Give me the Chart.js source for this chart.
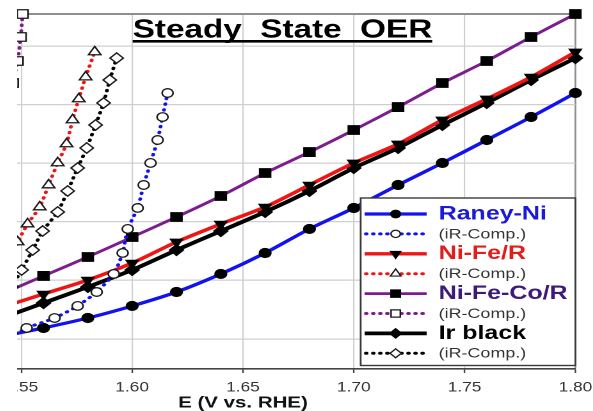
<!DOCTYPE html>
<html>
<head>
<meta charset="utf-8">
<script src="https://cdn.jsdelivr.net/npm/chart.js@4.4.1/dist/chart.umd.min.js"></script>
<style>
html, body { margin: 0; padding: 0; background: #fff; width: 593px; height: 411px; overflow: hidden; }
#crop { position: absolute; left: 17px; top: 0; width: 576px; height: 411px; overflow: hidden; }
#wrap { position: absolute; left: 0; top: 0; width: 564px; height: 411px; transform: scaleX(1.28); transform-origin: 0 0; }
canvas { display: block; }
</style>
</head>
<body>
<div id="crop"><div id="wrap"><canvas id="c" width="564" height="411"></canvas></div></div>
<script>
// ---- data ----
const E = [1.54, 1.56, 1.58, 1.60, 1.62, 1.64, 1.66, 1.68, 1.70, 1.72, 1.74, 1.76, 1.78, 1.80];
const raneyNi  = [1.7, 9.4, 17.9, 28.2, 40.1, 55.5, 73.4, 93.9, 111.8, 131.4, 150.2, 169.8, 189.4, 209.9];
const niFeR    = [26.4, 38.4, 50.3, 64.8, 82.8, 98.1, 112.6, 131.4, 150.2, 166.4, 186.9, 204.8, 223.5, 244.9];
const niFeCoR  = [37.5, 53.8, 70.0, 87.0, 104.1, 122.0, 141.6, 159.5, 178.3, 197.9, 218.4, 237.2, 257.7, 277.3];
const irBlack  = [17.1, 30.7, 44.4, 58.9, 75.9, 92.1, 108.4, 126.3, 145.9, 163.0, 182.6, 201.4, 221.0, 239.7];
// iR-compensated potentials for the same currents
const raneyNiComp = [1.5447, 1.5524, 1.5650, 1.5754, 1.5840, 1.5917, 1.5957, 1.5980, 1.6025, 1.6052, 1.6083, 1.6115, 1.6137, 1.6160];
const niFeRComp   = [1.5330, 1.5361, 1.5398, 1.5438, 1.5483, 1.5528, 1.5583, 1.5623, 1.5664, 1.5704, 1.5731, 1.5759, 1.5790, 1.5831];
const niFeCoRComp = [1.5235, 1.5258, 1.5280, 1.5303, 1.5325, 1.5348, 1.5370, 1.5393, 1.5416, 1.5438, 1.5461, 1.5483, 1.5497, 1.5506];
const irBlackComp = [1.5380, 1.5416, 1.5456, 1.5501, 1.5551, 1.5596, 1.5664, 1.5709, 1.5754, 1.5795, 1.5835, 1.5871, 1.5899, 1.5930];
const xTicks = [1.50, 1.55, 1.60, 1.65, 1.70, 1.75, 1.80];
const yGrid = [0, 50, 100, 150, 200, 250];
const yMin = -25.6, yMax = 277.3;
const seriesNames = ['Raney-Ni', 'Ni-Fe/R', 'Ni-Fe-Co/R', 'Ir black'];
const compName = '(iR-Comp.)';
const chartTitle = 'Steady  State  OER';
const xTitle = 'E (V vs. RHE)';

// ---- styles ----
const K = 1.28;
const FONT = '"Liberation Sans", Arial, Helvetica, sans-serif';
const styles = [
  { line: '#1212ee', text: '#1a1ad8', m: 'circle',   rot: 180, r: 4.6, cm: 'circle',   crot: 0, cr: 4.3, lw: 3.2 },
  { line: '#ee1515', text: '#e31c1c', m: 'triangle', rot: 180, r: 5.6, cm: 'triangle', crot: 0, cr: 5.6, lw: 3.4 },
  { line: '#7c1d8e', text: '#3d1a76', m: 'rect',     rot: 0,   r: 6.2, cm: 'rect',     crot: 0, cr: 6.0, lw: 2.8 },
  { line: '#000000', text: '#000000', m: 'rectRot',  rot: 0,   r: 5.6, cm: 'rectRot',  crot: 0, cr: 5.2, lw: 3.8 }
];
const solidVals = [raneyNi, niFeR, niFeCoR, irBlack];
const compVals = [raneyNiComp, niFeRComp, niFeCoRComp, irBlackComp];
const pts = (xs, ys) => xs.map((x, i) => ({ x: x, y: ys[i] }));

const compSets = solidVals.map((v, i) => ({
  label: compName,
  data: pts(compVals[i], v),
  borderColor: styles[i].line,
  borderWidth: 3,
  borderDash: [0.5, 5.2],
  borderCapStyle: 'round',
  pointStyle: styles[i].cm,
  pointRotation: styles[i].crot,
  pointRadius: styles[i].cr,
  pointBackgroundColor: '#ffffff',
  pointBorderColor: '#1a1a1a',
  pointBorderWidth: 1.3,
  tension: 0.2,
  clip: false
}));
const solidSets = solidVals.map((v, i) => ({
  label: seriesNames[i],
  data: pts(E, v),
  borderColor: styles[i].line,
  borderWidth: styles[i].lw,
  pointStyle: styles[i].m,
  pointRotation: styles[i].rot,
  pointRadius: styles[i].r,
  pointBackgroundColor: '#000',
  pointBorderColor: '#000',
  pointBorderWidth: 1,
  tension: 0.25,
  clip: false
}));

function marker(ctx, style, rot, x, y, r, fill, stroke, lw) {
  ctx.beginPath();
  if (style === 'circle') {
    ctx.arc(x, y, r, 0, Math.PI * 2);
  } else if (style === 'triangle') {
    const s = rot === 180 ? -1 : 1;
    ctx.moveTo(x, y - s * r);
    ctx.lineTo(x + 0.866 * r, y + s * 0.5 * r);
    ctx.lineTo(x - 0.866 * r, y + s * 0.5 * r);
    ctx.closePath();
  } else if (style === 'rect') {
    const h = r * Math.SQRT1_2;
    ctx.rect(x - h, y - h, 2 * h, 2 * h);
  } else {
    ctx.moveTo(x - r, y); ctx.lineTo(x, y - r); ctx.lineTo(x + r, y); ctx.lineTo(x, y + r); ctx.closePath();
  }
  ctx.fillStyle = fill; ctx.fill();
  ctx.lineWidth = lw; ctx.strokeStyle = stroke; ctx.stroke();
}

const overlay = {
  id: 'overlay',
  afterDatasetsDraw(chart) {
    const ctx = chart.ctx;
    const u0 = chart.scales.x.getPixelForValue(1.55);
    const X = s => u0 + (s - 21.7) / K;   // picture x -> canvas x
    ctx.save();
    // title inside the plot
    ctx.font = 'bold 26px ' + FONT;
    ctx.fillStyle = '#000';
    ctx.textAlign = 'left';
    ctx.textBaseline = 'alphabetic';
    const tx = X(133);
    ctx.fillText(chartTitle, tx, 37.3);
    const tw = ctx.measureText(chartTitle).width;
    ctx.fillRect(tx, 40.0, tw, 2.6);

    // legend box
    const bl = X(361), br = chart.chartArea.right, bt = 198, bb = 365.5;
    ctx.fillStyle = '#fff';
    ctx.fillRect(bl, bt, br - bl, bb - bt);
    ctx.strokeStyle = '#3a3a3a';
    ctx.lineWidth = 1.4;
    ctx.strokeRect(bl, bt, br - bl, bb - bt);

    const lx0 = X(365), lx1 = X(427), mx = X(396), txx = X(439);
    for (let i = 0; i < 4; i++) {
      const st = styles[i];
      // solid row
      let y = 214 + (2 * i) * 19.9;
      ctx.setLineDash([]);
      ctx.lineCap = 'butt';
      ctx.strokeStyle = st.line; ctx.lineWidth = st.lw;
      ctx.beginPath(); ctx.moveTo(lx0, y); ctx.lineTo(lx1, y); ctx.stroke();
      marker(ctx, st.m, st.rot, mx, y, st.r * 0.85, '#000', '#000', 1);
      ctx.font = 'bold 19.5px ' + FONT;
      ctx.fillStyle = st.text;
      ctx.textBaseline = 'middle';
      ctx.fillText(seriesNames[i], txx, y);
      // comp row
      y = 214 + (2 * i + 1) * 19.9;
      ctx.setLineDash([0.5, 5.0]);
      ctx.lineCap = 'round';
      ctx.strokeStyle = st.line; ctx.lineWidth = 3;
      ctx.beginPath(); ctx.moveTo(lx0 + 1, y); ctx.lineTo(lx1, y); ctx.stroke();
      ctx.setLineDash([]);
      marker(ctx, st.cm, st.crot, mx, y, st.cr * 0.85, '#fff', '#1a1a1a', 1.2);
      ctx.font = '14px ' + FONT;
      ctx.fillStyle = '#333';
      ctx.fillText(compName, txx, y + 0.5);
    }
    ctx.restore();
  }
};

const chart = new Chart(document.getElementById('c'), {
  type: 'line',
  data: { datasets: compSets.concat(solidSets) },
  options: {
    responsive: false,
    animation: false,
    devicePixelRatio: 2,
    layout: { padding: { left: 22.3, right: 22.3, top: 14, bottom: 0 } },
    plugins: { legend: { display: false }, tooltip: { enabled: false }, title: { display: false } },
    scales: {
      x: {
        type: 'linear', min: 1.50, max: 1.80,
        afterBuildTicks: s => { s.ticks = xTicks.map(v => ({ value: v })); },
        ticks: {
          callback: v => Number(v).toFixed(2),
          font: { family: FONT, size: 13.5, lineHeight: 1 },
          color: '#333', padding: 8, maxRotation: 0, autoSkip: false
        },
        grid: {
          color: c => (c.tick && Math.abs(c.tick.value - 1.80) < 1e-6) ? '#8e8e8e' : '#cfcfcf',
          lineWidth: c => (c.tick && Math.abs(c.tick.value - 1.80) < 1e-6) ? 1.4 : 1.1,
          tickLength: 4, tickColor: '#444', tickWidth: 1.2
        },
        border: { color: '#444', width: 1.6 },
        title: {
          display: true, text: xTitle, color: '#111',
          font: { family: FONT, size: 16, weight: 'bold', lineHeight: 1 },
          padding: { top: -7.5, bottom: 0 }
        }
      },
      y: {
        type: 'linear', min: yMin, max: yMax,
        afterBuildTicks: s => { s.ticks = yGrid.concat([yMax]).map(v => ({ value: v })); },
        ticks: { display: false },
        grid: {
          color: c => (c.tick && c.tick.value === yMax) ? '#8e8e8e' : '#cfcfcf',
          lineWidth: c => (c.tick && c.tick.value === yMax) ? 2 : 1.3,
          drawTicks: false
        },
        border: { display: false }
      }
    }
  },
  plugins: [overlay]
});
const u155 = chart.scales.x.getPixelForValue(1.55);
document.getElementById('wrap').style.left = (21.7 - 17 - K * u155) + 'px';
</script>
</body>
</html>
